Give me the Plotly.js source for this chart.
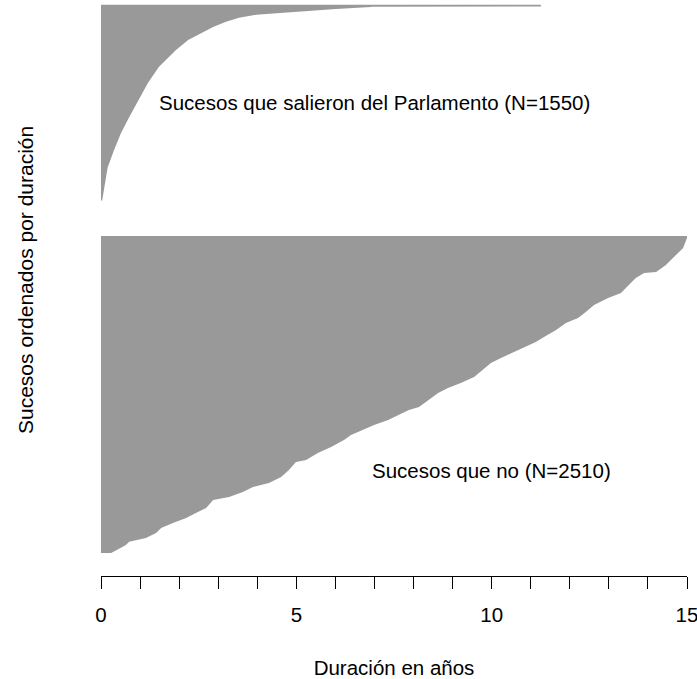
<!DOCTYPE html>
<html>
<head>
<meta charset="utf-8">
<script src="https://cdn.plot.ly/plotly-3.0.1.min.js"></script>
<style>
  html, body { margin: 0; padding: 0; background: #ffffff; }
  #chart { width: 697px; height: 679px; }
</style>
</head>
<body>
<div id="chart"></div>
<script>
// Sucesos que salieron del Parlamento (N=1550): rank (sorted by duration) and duration in years
const salieronRango = [0, 103, 262, 397, 533, 660, 795, 930, 1057, 1192, 1272, 1328, 1375, 1415, 1447, 1471, 1484, 1492, 1502, 1516, 1532, 1535, 1536, 1550];
const salieronDuracion = [0.03, 0.08, 0.17, 0.33, 0.51, 0.72, 0.95, 1.20, 1.48, 1.92, 2.23, 2.56, 2.87, 3.20, 3.53, 3.97, 4.56, 4.91, 5.25, 6.01, 6.91, 6.91, 11.26, 11.26];

// Sucesos que no (N=2510): rank (sorted by duration) and duration in years
const noRango = [0, 63, 89, 119, 158, 198, 238, 277, 317, 356, 420, 443, 483, 523, 554, 602, 657, 721, 736, 792, 839, 895, 934, 974, 1013, 1053, 1093, 1132, 1156, 1211, 1267, 1306, 1346, 1394, 1449, 1504, 1544, 1592, 1647, 1671, 1710, 1766, 1821, 1861, 1908, 1964, 2019, 2059, 2122, 2178, 2217, 2225, 2280, 2344, 2415, 2494, 2510];
const noDuracion = [0.26, 0.64, 0.72, 1.15, 1.41, 1.54, 1.84, 2.18, 2.43, 2.69, 2.87, 3.28, 3.63, 3.89, 4.30, 4.61, 4.81, 4.99, 5.25, 5.55, 5.89, 6.22, 6.40, 6.71, 6.99, 7.35, 7.60, 7.88, 8.14, 8.37, 8.63, 8.88, 9.21, 9.55, 9.78, 9.98, 10.24, 10.57, 10.93, 11.13, 11.34, 11.65, 11.90, 12.21, 12.41, 12.62, 12.98, 13.31, 13.51, 13.69, 13.90, 14.21, 14.46, 14.67, 14.90, 15.0, 15.0];

const xTicks = [0, 5, 10, 15];
const etiquetas = ["Sucesos que salieron del Parlamento (N=1550)", "Sucesos que no (N=2510)"];

// vertical offset of the upper group (layout choice, gap between groups)
const desplazamiento = 2790;

const gris = '#999999';
const fuente = 'Liberation Sans, Arial, Helvetica, sans-serif';
const tam = 20.5;

const traces = [
  {
    type: 'scatter', mode: 'lines',
    x: noDuracion, y: noRango,
    fill: 'tozerox', fillcolor: gris,
    line: { width: 0, color: gris },
    hoverinfo: 'skip', showlegend: false
  },
  {
    type: 'scatter', mode: 'lines',
    x: salieronDuracion, y: salieronRango.map(r => r + desplazamiento),
    fill: 'tozerox', fillcolor: gris,
    line: { width: 0, color: gris },
    hoverinfo: 'skip', showlegend: false
  }
];

const layout = {
  width: 697, height: 679,
  margin: { l: 101, r: 10, t: 0, b: 103 },
  paper_bgcolor: '#ffffff', plot_bgcolor: '#ffffff',
  font: { family: fuente, size: tam, color: '#000000' },
  showlegend: false,
  xaxis: {
    range: [0, 15],
    tickvals: xTicks, ticktext: xTicks.map(String),
    ticks: 'outside', ticklen: 12, tickwidth: 1, tickcolor: '#000000',
    ticklabelstandoff: 8,
    ticklabeloverflow: 'allow',
    minor: { dtick: 1, tick0: 0, ticks: 'outside', ticklen: 12, tickwidth: 1, tickcolor: '#000000', showgrid: false },
    showline: true, linecolor: '#000000', linewidth: 1,
    showgrid: false, zeroline: false,
    tickfont: { family: fuente, size: tam, color: '#000000' },
    title: { text: 'Duración en años', font: { family: fuente, size: tam, color: '#000000' }, standoff: 36 },
    fixedrange: true
  },
  yaxis: {
    range: [-182, 4378],
    visible: false,
    fixedrange: true
  },
  annotations: [
    { x: 7.0, y: 3563, xref: 'x', yref: 'y', text: etiquetas[0], showarrow: false,
      xanchor: 'center', yanchor: 'middle', font: { family: fuente, size: tam, color: '#000000' } },
    { x: 10.0, y: 657, xref: 'x', yref: 'y', text: etiquetas[1], showarrow: false,
      xanchor: 'center', yanchor: 'middle', font: { family: fuente, size: tam, color: '#000000' } },
    { x: (25 - 101) / 586, y: (576 - 280) / 576, xref: 'paper', yref: 'paper',
      text: 'Sucesos ordenados por duración', textangle: -90, showarrow: false,
      xanchor: 'center', yanchor: 'middle', font: { family: fuente, size: 21, color: '#000000' } }
  ]
};

Plotly.newPlot('chart', traces, layout, { staticPlot: true, displayModeBar: false });
</script>
</body>
</html>
